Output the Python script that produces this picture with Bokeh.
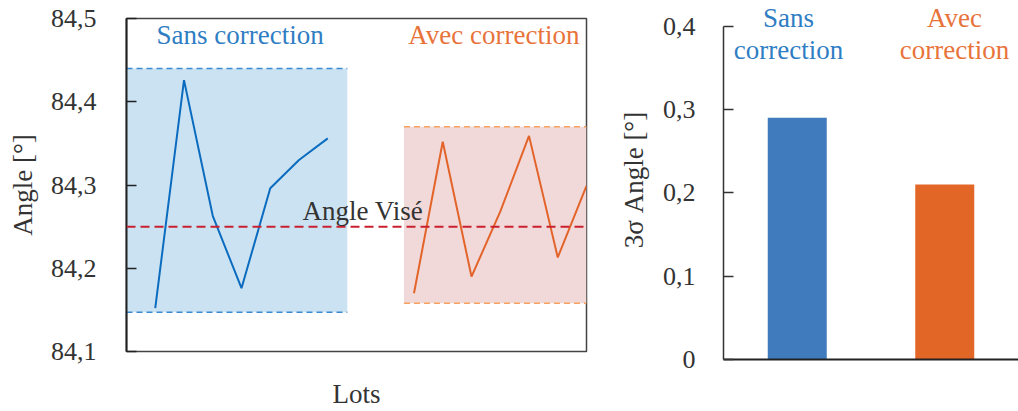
from bokeh.plotting import figure
from bokeh.layouts import row
from bokeh.models import Range1d, FixedTicker, Span, Label
from bokeh.embed import file_html
from bokeh.resources import INLINE

# ---------------- data ----------------
lots_sans = [1, 2, 3, 4, 5, 6, 7]
angle_sans = [84.152, 84.426, 84.263, 84.176, 84.296, 84.330, 84.356]
lots_avec = [10, 11, 12, 13, 14, 15, 16]
angle_avec = [84.170, 84.352, 84.190, 84.268, 84.359, 84.213, 84.299]
angle_vise = 84.25
band_sans = [84.147, 84.44]      # min / max (lots without correction)
band_avec = [84.158, 84.37]      # min / max (lots with correction)
band_sans_lots = [0, 7.68]
band_avec_lots = [9.65, 16]
y_ticks_left = [84.1, 84.2, 84.3, 84.4, 84.5]
y_tick_labels_left = ["84,1", "84,2", "84,3", "84,4", "84,5"]

categories = ["Sans correction", "Avec correction"]
sigma3 = [0.29, 0.21]
y_ticks_right = [0, 0.1, 0.2, 0.3, 0.4]
y_tick_labels_right = ["0", "0,1", "0,2", "0,3", "0,4"]

# ---------------- style ----------------
FONT = "Liberation Serif"
TXT = "#333333"
BLUE_LINE = "#0b6cbf"
BLUE_FILL = "#cbe2f2"
BLUE_DASH = "#3b8bd3"
ORANGE_LINE = "#e3642a"
ORANGE_FILL = "#f2d9d9"
ORANGE_DASH = "#f5a25e"
RED = "#c9202f"
BAR_COLORS = ["#3f7bbd", "#e26727"]
TITLE_COLORS = ["#2f7dc3", "#e8733a"]

# ---------------- left panel ----------------
p1 = figure(width=600, height=411, x_range=Range1d(0, 16), y_range=Range1d(84.1, 84.5),
            output_backend="svg", toolbar_location=None,
            min_border_left=126, min_border_right=14, min_border_top=18, min_border_bottom=60)
p1.frame_align = False
p1.grid.visible = False
p1.outline_line_color = "#444444"
p1.outline_line_width = 1.5
p1.background_fill_color = "white"
p1.border_fill_color = "white"

xa1 = p1.xaxis[0]
xa1.ticker = FixedTicker(ticks=[])
xa1.axis_line_color = None
xa1.major_tick_out = 0
xa1.major_tick_in = 0
xa1.minor_tick_line_color = None
xa1.major_label_standoff = 0
xa1.axis_label = "Lots"
xa1.axis_label_text_font = FONT
xa1.axis_label_text_font_size = "27px"
xa1.axis_label_text_font_style = "normal"
xa1.axis_label_text_color = TXT
xa1.axis_label_standoff = 27

ya = p1.yaxis[0]
ya.ticker = FixedTicker(ticks=y_ticks_left)
ya.major_label_overrides = {t: l for t, l in zip(y_ticks_left, y_tick_labels_left)}
ya.minor_tick_line_color = None
ya.major_tick_in = 10
ya.major_tick_out = 0
ya.major_tick_line_color = "#222222"
ya.major_tick_line_width = 1.5
ya.axis_line_color = "#222222"
ya.axis_line_width = 2
ya.major_label_standoff = 30
ya.major_label_text_font = FONT
ya.major_label_text_font_size = "26px"
ya.major_label_text_color = TXT
ya.axis_label = "Angle [°]"
ya.axis_label_text_font = FONT
ya.axis_label_text_font_size = "27px"
ya.axis_label_text_font_style = "normal"
ya.axis_label_text_color = TXT
ya.axis_label_standoff = 10

# bands
p1.quad(left=[band_sans_lots[0]], right=[band_sans_lots[1]], bottom=[band_sans[0]], top=[band_sans[1]],
        fill_color=BLUE_FILL, line_color=None)
p1.quad(left=[band_avec_lots[0]], right=[band_avec_lots[1]], bottom=[band_avec[0]], top=[band_avec[1]],
        fill_color=ORANGE_FILL, line_color=None)
p1.segment(x0=[band_sans_lots[0]] * 2, x1=[band_sans_lots[1]] * 2, y0=band_sans, y1=band_sans,
           line_color=BLUE_DASH, line_width=1.5, line_dash="6 4")
p1.segment(x0=[band_avec_lots[0]] * 2, x1=[band_avec_lots[1]] * 2, y0=band_avec, y1=band_avec,
           line_color=ORANGE_DASH, line_width=1.5, line_dash="6 4")

# target
p1.add_layout(Span(location=angle_vise, dimension="width", line_color=RED, line_width=2,
                   line_dash="9 5"))

# data lines
p1.line(lots_sans, angle_sans, line_color=BLUE_LINE, line_width=2)
p1.line(lots_avec, angle_avec, line_color=ORANGE_LINE, line_width=2)

# texts
p1.add_layout(Label(x=3.95, y=84.48, text="Sans correction", text_align="center",
                    text_baseline="alphabetic", text_color=TITLE_COLORS[0],
                    text_font=FONT, text_font_size="27px"))
p1.add_layout(Label(x=12.78, y=84.48, text="Avec correction", text_align="center",
                    text_baseline="alphabetic", text_color=TITLE_COLORS[1],
                    text_font=FONT, text_font_size="27px"))
p1.add_layout(Label(x=8.22, y=84.2688, text="Angle Visé", text_align="center",
                    text_baseline="alphabetic", text_color=TXT,
                    text_font=FONT, text_font_size="27px"))

# ---------------- right panel ----------------
xpos = [i + 0.5 for i in range(len(categories))]
p2 = figure(width=418, height=411, x_range=Range1d(0, 2), y_range=Range1d(0, 0.4308),
            output_backend="svg", toolbar_location=None,
            min_border_left=123, min_border_right=0, min_border_top=0, min_border_bottom=52)
p2.frame_align = False
p2.grid.visible = False
p2.outline_line_color = None
p2.background_fill_color = "white"
p2.border_fill_color = "white"

p2.vbar(x=xpos, top=sigma3, width=0.4, fill_color=BAR_COLORS, line_color=None)

xa = p2.xaxis[0]
xa.ticker = FixedTicker(ticks=[])
xa.major_tick_out = 0
xa.major_tick_in = 0
xa.minor_tick_line_color = None
xa.major_label_standoff = 0
xa.axis_line_color = "#222222"
xa.axis_line_width = 2

yb = p2.yaxis[0]
yb.bounds = (0, 0.4)
yb.ticker = FixedTicker(ticks=y_ticks_right)
yb.major_label_overrides = {t: l for t, l in zip(y_ticks_right, y_tick_labels_right)}
yb.minor_tick_line_color = None
yb.major_tick_in = 10
yb.major_tick_out = 0
yb.major_tick_line_color = "#333333"
yb.major_tick_line_width = 1.5
yb.axis_line_color = "#333333"
yb.axis_line_width = 1.5
yb.major_label_standoff = 28
yb.major_label_text_font = FONT
yb.major_label_text_font_size = "26px"
yb.major_label_text_color = TXT
yb.axis_label = "3σ Angle [°]"
yb.axis_label_text_font = FONT
yb.axis_label_text_font_size = "27px"
yb.axis_label_text_font_style = "normal"
yb.axis_label_text_color = TXT
yb.axis_label_standoff = 11

title_offsets = [-0.059, 0.066]
for i, name in enumerate(categories):
    first, second = name.split(" ", 1)
    p2.add_layout(Label(x=xpos[i] + title_offsets[i], y=0.4104, text=first, text_align="center",
                        text_baseline="alphabetic", text_color=TITLE_COLORS[i],
                        text_font=FONT, text_font_size="27px"))
    p2.add_layout(Label(x=xpos[i] + title_offsets[i], y=0.3714, text=second, text_align="center",
                        text_baseline="alphabetic", text_color=TITLE_COLORS[i],
                        text_font=FONT, text_font_size="27px"))

layout = row(p1, p2)
open("out.html", "w").write(file_html(layout, INLINE))
